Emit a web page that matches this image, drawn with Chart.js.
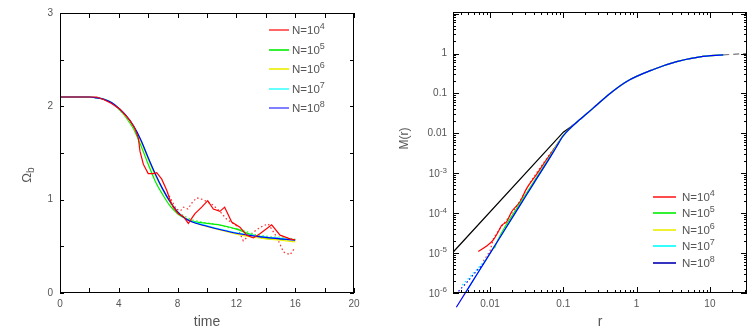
<!DOCTYPE html>
<html>
<head>
<meta charset="utf-8">
<script src="https://cdn.jsdelivr.net/npm/chart.js@4.4.1/dist/chart.umd.min.js"></script>
<style>
  body { margin: 0; background: #fff; width: 753px; height: 332px; overflow: hidden; position: relative; }
  canvas { position: absolute; top: 0; }
  #leftChart { left: 0; }
  #rightChart { left: 376px; }
</style>
</head>
<body>
<canvas id="leftChart" width="376" height="332"></canvas>
<canvas id="rightChart" width="377" height="332"></canvas>
<script>
'use strict';

// ---------- left panel: Omega_b against time ----------
var timeMain = [0, 1, 2, 2.5, 3, 3.5, 4, 4.5, 5, 5.5, 6, 6.5, 7, 7.5, 8, 8.5, 9, 10, 11, 12, 13, 14, 15, 16];
var omegaBlue = [2.10, 2.10, 2.10, 2.09, 2.075, 2.04, 1.98, 1.90, 1.79, 1.64, 1.45, 1.27, 1.11, 0.975, 0.87, 0.80, 0.76, 0.715, 0.675, 0.64, 0.615, 0.595, 0.58, 0.565];
var omegaCyan = [2.10, 2.10, 2.10, 2.09, 2.075, 2.04, 1.98, 1.90, 1.79, 1.64, 1.45, 1.27, 1.11, 0.975, 0.87, 0.80, 0.765, 0.72, 0.68, 0.645, 0.62, 0.60, 0.585, 0.57];
var omegaYellow = [2.10, 2.10, 2.10, 2.09, 2.075, 2.04, 1.98, 1.89, 1.78, 1.62, 1.43, 1.25, 1.10, 0.97, 0.87, 0.80, 0.76, 0.71, 0.67, 0.63, 0.60, 0.58, 0.565, 0.548];
var omegaGreen = [2.10, 2.10, 2.10, 2.09, 2.075, 2.04, 1.97, 1.88, 1.76, 1.58, 1.38, 1.19, 1.05, 0.93, 0.85, 0.80, 0.77, 0.745, 0.725, 0.685, 0.625, 0.585, 0.575, 0.57];

var timeGreenDot = [7.5, 8, 8.5, 9, 9.5, 10, 10.5, 11, 11.5, 12, 12.5, 13, 13.5, 14, 14.5, 15, 15.5, 16];
var omegaGreenDot = [0.96, 0.87, 0.82, 0.785, 0.765, 0.75, 0.74, 0.72, 0.70, 0.69, 0.67, 0.64, 0.62, 0.61, 0.60, 0.60, 0.59, 0.575];

var timeRed = [0, 2.5, 3, 3.5, 4.08, 4.76, 5.1, 5.33, 5.44, 5.67, 6.0, 6.35, 6.58, 6.92, 7.26, 7.5, 7.7, 8.05, 8.39, 8.73, 8.96, 9.18, 9.64, 10.05, 10.43, 10.88, 11.2, 11.68, 12.24, 12.7, 13.15, 13.6, 14.4, 14.97, 15.65, 16];
var omegaRed = [2.10, 2.10, 2.07, 2.03, 1.97, 1.85, 1.76, 1.66, 1.52, 1.38, 1.28, 1.28, 1.29, 1.22, 1.10, 0.99, 0.92, 0.85, 0.82, 0.745, 0.80, 0.85, 0.92, 0.99, 0.90, 0.875, 0.92, 0.76, 0.705, 0.62, 0.59, 0.635, 0.73, 0.62, 0.58, 0.57];

var timeRedDot = [7.3, 7.6, 7.9, 8.2, 8.4, 8.7, 9.0, 9.3, 9.75, 10.43, 10.9, 11.34, 12.0, 12.47, 12.9, 13.4, 13.83, 14.17, 14.74, 15.2, 15.65, 16];
var omegaRedDot = [1.08, 0.99, 0.90, 0.88, 0.92, 0.90, 0.97, 1.02, 1.00, 0.94, 0.87, 0.79, 0.72, 0.56, 0.62, 0.68, 0.72, 0.74, 0.60, 0.44, 0.41, 0.49];

// ---------- right panel: M(r) against r ----------
// the common profile that all runs follow beyond r = 0.1
var rOuter = [0.126, 0.158, 0.251, 0.434, 0.733, 1.69, 3.52, 7.33, 15.2];
var mOuter = [0.0138, 0.020, 0.0417, 0.1, 0.2, 0.398, 0.624, 0.822, 0.925];

var rInnerBlue = [0.00347, 0.00501, 0.00708, 0.01, 0.0158, 0.0251, 0.0398, 0.0631, 0.0794, 0.1];
var mInnerBlue = [4.4e-7, 1.29e-6, 3.55e-6, 9.8e-6, 3.8e-5, 1.48e-4, 5.75e-4, 2.19e-3, 4.37e-3, 8.7e-3];

var rBlack = [0.003126, 0.1, 0.126, 0.158];
var mBlack = [1.05e-5, 0.0107, 0.0145, 0.020];

var rInnerRed = [0.00692, 0.00891, 0.0111, 0.0130, 0.0145, 0.0169, 0.0198, 0.0257, 0.0316, 0.0434, 0.0594, 0.0794, 0.1];
var mInnerRed = [1.10e-5, 1.48e-5, 2.14e-5, 3.47e-5, 5.0e-5, 6.17e-5, 1.10e-4, 1.95e-4, 4.17e-4, 9.55e-4, 2.24e-3, 4.79e-3, 8.9e-3];

var rRedDot = [0.00813, 0.01, 0.0112, 0.0141, 0.0178, 0.0251, 0.0355, 0.0501, 0.0631, 0.0794];
var mRedDot = [6.3e-6, 1.12e-5, 2.4e-5, 4.47e-5, 7.6e-5, 1.9e-4, 6.0e-4, 1.51e-3, 2.75e-3, 4.8e-3];

var rInnerGreen = [0.0115, 0.0126, 0.0158, 0.02, 0.0251, 0.0398, 0.0631, 0.1];
var mInnerGreen = [1.32e-5, 2.0e-5, 4.37e-5, 8.7e-5, 1.66e-4, 6.3e-4, 2.34e-3, 8.9e-3];

var rInnerYellow = [0.00832, 0.01, 0.0158, 0.0251, 0.0398, 0.0631, 0.1];
var mInnerYellow = [5.6e-6, 9.8e-6, 3.8e-5, 1.48e-4, 5.75e-4, 2.19e-3, 8.7e-3];

var rInnerCyan = [0.00447, 0.00708, 0.01, 0.0251, 0.0631, 0.1];
var mInnerCyan = [9.1e-7, 3.55e-6, 9.8e-6, 1.48e-4, 2.19e-3, 8.7e-3];

var rBlueDot = [0.00372, 0.00501, 0.00631, 0.00813];
var mBlueDot = [1.1e-6, 2.0e-6, 3.3e-6, 5.4e-6];

var rCyanDot = [0.00417, 0.00631, 0.00891];
var mCyanDot = [1.58e-6, 3.55e-6, 7.1e-6];

var rTail = [15.2, 32];
var mTail = [0.925, 1.0];

// ---------- legends ----------
var legendExponents = ['4', '5', '6', '7', '8'];
var leftLegendColors = ['#ff4040', '#00ee00', '#eeee00', '#40ffff', '#6060ff'];
var rightLegendColors = ['#ff2020', '#00ee00', '#eeee00', '#00ffff', '#0000b0'];

var TEXT = '#555';
var FONT = '"Liberation Sans", Arial, sans-serif';

function pts(xs, ys) {
  return xs.map(function (x, i) { return {x: x, y: ys[i]}; });
}

// inner part of a run joined to the shared outer profile
function withOuter(rs, ms) {
  return pts(rs, ms).concat(pts(rOuter, mOuter));
}

function line(data, color, order, dash, noClip, straight) {
  return {
    data: data,
    borderColor: color,
    borderWidth: 1.2,
    borderDash: dash || [],
    pointRadius: 0,
    fill: false,
    tension: 0,
    cubicInterpolationMode: straight ? 'default' : 'monotone',
    order: order,
    clip: noClip ? false : undefined
  };
}

function isDecade(v) {
  var l = Math.log10(v);
  return Math.abs(l - Math.round(l)) < 1e-6;
}

// "base" followed by a raised, smaller "exp"; anchored by its right or left end
function drawPower(ctx, base, exp, x, y, size, align) {
  ctx.save();
  ctx.textBaseline = 'middle';
  ctx.textAlign = 'left';
  ctx.font = size + 'px ' + FONT;
  var wb = ctx.measureText(base).width;
  var es = Math.round(size * 0.78);
  ctx.font = es + 'px ' + FONT;
  var we = ctx.measureText(exp).width;
  var x0 = align === 'right' ? x - wb - we : x;
  ctx.font = size + 'px ' + FONT;
  ctx.fillText(base, x0, y);
  ctx.font = es + 'px ' + FONT;
  ctx.fillText(exp, x0 + wb, y - size * 0.38);
  ctx.restore();
}

// frame with inward ticks on all four sides, axis titles, exponent labels and legend
var framePlugin = {
  id: 'frame',
  afterDatasetsDraw: function (chart, args, opts) {
    var ctx = chart.ctx;
    var a = chart.chartArea;
    var xs = chart.scales.x, ys = chart.scales.y;
    ctx.save();
    ctx.strokeStyle = '#000';
    ctx.lineWidth = 1;
    ctx.setLineDash([]);
    ctx.strokeRect(a.left + 0.5, a.top + 0.5, a.right - a.left - 1, a.bottom - a.top - 1);
    ctx.beginPath();
    opts.xTicks(xs).forEach(function (t) {
      var px = Math.round(xs.getPixelForValue(t.v)) + 0.5;
      ctx.moveTo(px, a.bottom); ctx.lineTo(px, a.bottom - t.len);
      ctx.moveTo(px, a.top); ctx.lineTo(px, a.top + t.len);
    });
    opts.yTicks(ys).forEach(function (t) {
      var py = Math.round(ys.getPixelForValue(t.v)) + 0.5;
      ctx.moveTo(a.left, py); ctx.lineTo(a.left + t.len, py);
      ctx.moveTo(a.right, py); ctx.lineTo(a.right - t.len, py);
    });
    ctx.stroke();

    ctx.fillStyle = TEXT;

    // y labels written as powers of ten
    if (opts.powerLabels) {
      opts.powerLabels.forEach(function (e) {
        var py = ys.getPixelForValue(Math.pow(10, e));
        drawPower(ctx, '10', '-' + Math.abs(e), a.left - 6, py + 1, 10, 'right');
      });
    }

    ctx.textAlign = 'center';
    ctx.textBaseline = 'alphabetic';
    ctx.font = opts.xTitleFont;
    ctx.fillText(opts.xTitle, (a.left + a.right) / 2, 326);

    // legend inside the plot box
    var lg = opts.legend;
    legendExponents.forEach(function (ex, i) {
      var y = Math.round(lg.y0 + i * lg.dy);
      ctx.strokeStyle = lg.colors[i];
      ctx.lineWidth = 1.6;
      ctx.beginPath();
      ctx.moveTo(lg.x0, y);
      ctx.lineTo(lg.x0 + lg.len, y);
      ctx.stroke();
      drawPower(ctx, 'N=10', ex, lg.textX, y + 1, 11.5, 'left');
    });

    // rotated y title, with optional subscript
    ctx.translate(opts.yTitleX, (a.top + a.bottom) / 2 + opts.yTitleShift);
    ctx.rotate(-Math.PI / 2);
    ctx.font = opts.yTitleFont;
    var w1 = ctx.measureText(opts.yTitle).width;
    var w2 = 0;
    if (opts.ySub) {
      ctx.font = opts.ySubFont;
      w2 = ctx.measureText(opts.ySub).width;
    }
    ctx.textAlign = 'left';
    ctx.textBaseline = 'middle';
    ctx.font = opts.yTitleFont;
    ctx.fillText(opts.yTitle, -(w1 + w2) / 2, 0);
    if (opts.ySub) {
      ctx.font = opts.ySubFont;
      ctx.fillText(opts.ySub, -(w1 + w2) / 2 + w1, 4);
    }
    ctx.restore();
  }
};

function linearTicks(step, len) {
  return function (scale) {
    var out = [];
    for (var v = scale.min; v <= scale.max + 1e-9; v += step) {
      out.push({v: v, len: len});
    }
    return out;
  };
}

function logTicks(scale) {
  var out = [];
  var lo = Math.floor(Math.log10(scale.min));
  var hi = Math.ceil(Math.log10(scale.max));
  for (var e = lo; e <= hi; e++) {
    for (var k = 1; k <= 9; k++) {
      var v = k * Math.pow(10, e);
      if (v >= scale.min * 0.9999 && v <= scale.max * 1.0001) {
        out.push({v: v, len: k === 1 ? 6 : 3});
      }
    }
  }
  return out;
}

var tickFont = {family: FONT, size: 10};

// ---------- left chart ----------
new Chart(document.getElementById('leftChart').getContext('2d'), {
  type: 'line',
  plugins: [framePlugin],
  data: {
    datasets: [
      line(pts(timeRedDot, omegaRedDot), '#ff2a2a', 8, [1.5, 2.5], false, true),
      line(pts(timeRed, omegaRed), '#ff0000', 2, null, false, true),
      line(pts(timeGreenDot, omegaGreenDot), '#33ff33', 7, [1.5, 2.5]),
      line(pts(timeMain, omegaGreen), '#00ee00', 6),
      line(pts(timeMain, omegaYellow), '#eeee00', 5),
      line(pts(timeMain, omegaCyan), '#00ffff', 4),
      line(pts(timeMain, omegaBlue), '#0000ff', 3)
    ]
  },
  options: {
    responsive: false,
    devicePixelRatio: 1,
    animation: false,
    layout: {padding: {top: 11, right: 22, left: 0, bottom: 0}},
    plugins: {
      legend: {display: false},
      tooltip: {enabled: false},
      frame: {
        xTicks: linearTicks(2, 5),
        yTicks: linearTicks(0.5, 4),
        xTitle: 'time',
        xTitleFont: '14px ' + FONT,
        yTitle: '\u03A9',
        ySub: 'b',
        yTitleFont: '13px ' + FONT,
        ySubFont: '10px ' + FONT,
        yTitleX: 27,
        yTitleShift: 22,
        legend: {x0: 269, len: 20, textX: 292, y0: 30, dy: 19.5, colors: leftLegendColors}
      }
    },
    scales: {
      x: {
        type: 'linear', min: 0, max: 20,
        afterFit: function (s) { s.height = 39; },
        grid: {display: false, drawTicks: false},
        border: {display: false},
        ticks: {
          stepSize: 2, autoSkip: false, maxRotation: 0, padding: 5,
          color: TEXT, font: tickFont,
          callback: function (v) { return v % 4 === 0 ? String(v) : ''; }
        }
      },
      y: {
        type: 'linear', min: 0, max: 3,
        afterFit: function (s) { s.width = 60; },
        grid: {display: false, drawTicks: false},
        border: {display: false},
        ticks: {
          stepSize: 0.5, autoSkip: false, padding: 7,
          color: TEXT, font: tickFont,
          callback: function (v) { return Number.isInteger(v) ? String(v) : ''; }
        }
      }
    }
  }
});

// ---------- right chart ----------
new Chart(document.getElementById('rightChart').getContext('2d'), {
  type: 'line',
  plugins: [framePlugin],
  data: {
    datasets: [
      line(pts(rBlack, mBlack), '#000000', 9, null, false, true),
      line(pts(rRedDot, mRedDot), '#ff2a2a', 8, [1.5, 2.5], false, true),
      line(withOuter(rInnerRed, mInnerRed), '#ff0000', 7),
      line(withOuter(rInnerGreen, mInnerGreen), '#00ee00', 6),
      line(withOuter(rInnerYellow, mInnerYellow), '#eeee00', 5),
      line(withOuter(rInnerCyan, mInnerCyan), '#00ffff', 4),
      line(pts(rCyanDot, mCyanDot), '#00ffff', 3, [1.5, 2.5], true),
      line(pts(rBlueDot, mBlueDot), '#0000ff', 2, [1.5, 2.5], true),
      line(withOuter(rInnerBlue, mInnerBlue), '#0000ff', 1, null, true),
      line(pts(rTail, mTail), '#777777', 1, [6, 4])
    ]
  },
  options: {
    responsive: false,
    devicePixelRatio: 1,
    animation: false,
    layout: {padding: {top: 11, right: 6, left: 0, bottom: 0}},
    plugins: {
      legend: {display: false},
      tooltip: {enabled: false},
      frame: {
        xTicks: logTicks,
        yTicks: logTicks,
        xTitle: 'r',
        xTitleFont: '14px ' + FONT,
        yTitle: 'M(r)',
        ySub: '',
        yTitleFont: '12px ' + FONT,
        ySubFont: '10px ' + FONT,
        yTitleX: 29,
        yTitleShift: -14,
        powerLabels: [-3, -4, -5, -6],
        legend: {x0: 277, len: 23, textX: 306, y0: 197, dy: 16.4, colors: rightLegendColors}
      }
    },
    scales: {
      x: {
        type: 'logarithmic', min: 0.003126, max: 32.06,
        afterFit: function (s) { s.height = 39; },
        grid: {display: false, drawTicks: false},
        border: {display: false},
        ticks: {
          autoSkip: false, maxRotation: 0, padding: 5,
          color: TEXT, font: tickFont,
          callback: function (v) { return isDecade(v) ? String(Number(v.toPrecision(3))) : ''; }
        }
      },
      y: {
        type: 'logarithmic', min: 1e-6, max: 10.96,
        afterFit: function (s) { s.width = 77; },
        grid: {display: false, drawTicks: false},
        border: {display: false},
        ticks: {
          autoSkip: false, padding: 6,
          color: TEXT, font: tickFont,
          callback: function (v) {
            if (!isDecade(v)) return '';
            var e = Math.round(Math.log10(v));
            // powers below 0.01 are written as 10^e by the frame plugin
            if (e > 0 || e < -2) return '';
            return String(Number(v.toPrecision(3)));
          }
        }
      }
    }
  }
});
</script>
</body>
</html>
